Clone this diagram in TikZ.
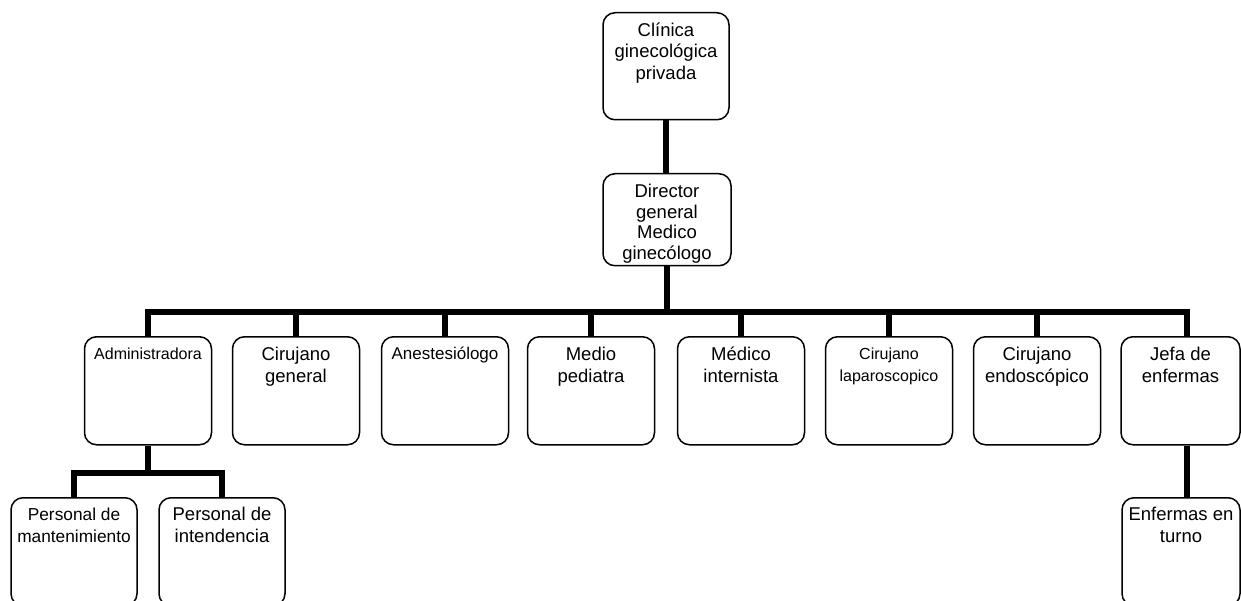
\documentclass[tikz,border=0pt]{standalone}
\usepackage{fontspec}
\setmainfont{Liberation Sans}
\newcommand\bt[4]{\parbox[t][#1pt][t]{#2pt}{\centering\fontsize{#3}{21.7}\selectfont\strut #4}}
\tikzset{
  obox/.style={draw, line width=1.5pt, rounded corners=12pt, fill=white,
    inner sep=0pt, anchor=north, align=center},
  conn/.style={line width=5.5pt}
}
\begin{document}
\begin{tikzpicture}[x=1pt,y=-1pt]
\useasboundingbox (0,0) rectangle (1241,601);
\clip (0,0) rectangle (1241,601);
% nodes
\node[obox, minimum width=126pt, minimum height=107pt] (top) at (666,12)
  {\bt{90.8}{126}{18.5}{Clínica\\ginecológica\\privada}};
\node[obox, minimum width=128pt, minimum height=92pt] (dir) at (667,173)
  {\parbox[t][72.7pt][t]{128pt}{\centering\fontsize{18.5}{20.5}\selectfont\strut Director\\general\\Medico\\ginecólogo}};
\node[obox, minimum width=127pt, minimum height=108pt] (adm) at (148,336)
  {\bt{93}{127}{16}{Administradora}};
\node[obox, minimum width=127pt, minimum height=108pt] (cg) at (296,336)
  {\bt{90.4}{127}{18.5}{Cirujano\\general}};
\node[obox, minimum width=127pt, minimum height=108pt] (an) at (445,336)
  {\bt{92}{127}{17}{Anestesiólogo}};
\node[obox, minimum width=127pt, minimum height=108pt] (mp) at (591,336)
  {\bt{90.4}{127}{18.5}{Medio\\pediatra}};
\node[obox, minimum width=127pt, minimum height=108pt] (mi) at (741,336)
  {\bt{90.4}{127}{18.5}{Médico\\internista}};
\node[obox, minimum width=127pt, minimum height=108pt] (cl) at (889,336)
  {\bt{92}{127}{16}{Cirujano\\laparoscopico}};
\node[obox, minimum width=127pt, minimum height=108pt] (ce) at (1037,336)
  {\bt{90.4}{127}{18.5}{Cirujano\\endoscópico}};
\node[obox, minimum width=119pt, minimum height=108pt] (je) at (1180.5,336)
  {\bt{90.4}{119}{18.5}{Jefa de\\enfermas}};
\node[obox, minimum width=126pt, minimum height=108pt] (pm) at (74,497)
  {\bt{92.4}{126}{17.3}{Personal de\\mantenimiento}};
\node[obox, minimum width=126pt, minimum height=108pt] (pi) at (222,497)
  {\bt{92.4}{126}{18.5}{Personal de\\intendencia}};
\node[obox, minimum width=118pt, minimum height=108pt] (et) at (1181,497)
  {\bt{92.4}{118}{18.5}{Enfermas en\\turno}};
% connector helpers
\coordinate (bus) at (0,312);
\coordinate (bus2) at (0,473);
\coordinate (jx) at (1187,0);
% connectors
\draw[conn] (top.south) -- (top.south |- dir.north);
\draw[conn] (dir.south) -- (dir.south |- bus);
\draw[conn] (adm.north) -- (adm.north |- bus) -- (jx |- bus) -- (jx |- je.north);
\foreach \n in {cg,an,mp,mi,cl,ce}{
  \draw[conn] (\n.north) -- (\n.north |- bus);
}
\draw[conn] (adm.south) -- (adm.south |- bus2);
\draw[conn] (pm.north) -- (pm.north |- bus2) -- (pi.north |- bus2) -- (pi.north);
\draw[conn] (jx |- je.south) -- (jx |- et.north);
\end{tikzpicture}
\end{document}
